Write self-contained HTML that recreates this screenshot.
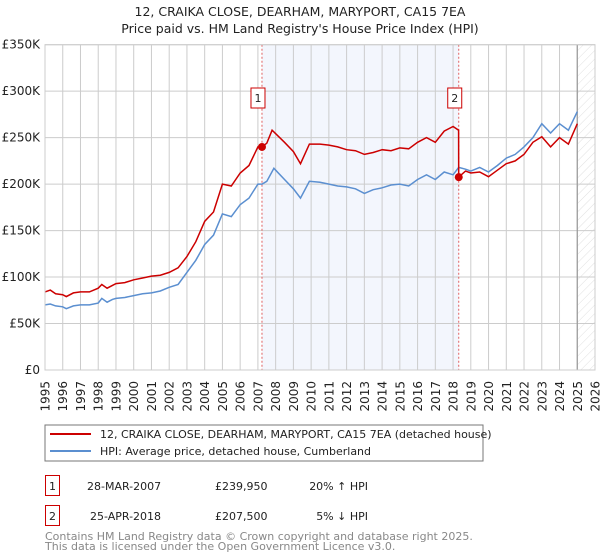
<!DOCTYPE html>
<html><head><meta charset="utf-8"><style>
body{margin:0;background:#fff;font-family:"DejaVu Sans","Liberation Sans",sans-serif;}
svg{display:block}
</style></head><body>
<svg width="600" height="560" viewBox="0 0 600 560" xmlns="http://www.w3.org/2000/svg" font-family="DejaVu Sans, Liberation Sans, sans-serif">
<text x="300" y="16" text-anchor="middle" font-size="12.5" fill="#222">12, CRAIKA CLOSE, DEARHAM, MARYPORT, CA15 7EA</text>
<text x="300" y="33" text-anchor="middle" font-size="12.5" fill="#222">Price paid vs. HM Land Registry's House Price Index (HPI)</text>
<defs><pattern id="hatch" width="6" height="6" patternUnits="userSpaceOnUse" patternTransform="rotate(45)"><line x1="0" y1="0" x2="0" y2="6" stroke="#d8d8d8" stroke-width="0.8"/></pattern></defs>
<g id="plot"></g>
<rect x="45" y="425" width="438" height="36" fill="#fff" stroke="#777"/>
<line x1="50" y1="434" x2="91" y2="434" stroke="#cc0000" stroke-width="2"/>
<text x="100" y="438" font-size="11" fill="#222">12, CRAIKA CLOSE, DEARHAM, MARYPORT, CA15 7EA (detached house)</text>
<line x1="50" y1="451" x2="91" y2="451" stroke="#5b8fd0" stroke-width="2"/>
<text x="100" y="455" font-size="11" fill="#222">HPI: Average price, detached house, Cumberland</text>
<rect x="45.5" y="475.5" width="14" height="20" fill="#fff" stroke="#cc0000"/>
<text x="52.5" y="490" text-anchor="middle" font-size="11" fill="#222">1</text>
<text x="87" y="490" font-size="11" fill="#222">28-MAR-2007</text>
<text x="215" y="490" font-size="11" fill="#222">£239,950</text>
<text x="368" y="490" text-anchor="end" font-size="11" fill="#222">20% ↑ HPI</text>
<rect x="45.5" y="505.5" width="14" height="20" fill="#fff" stroke="#cc0000"/>
<text x="52.5" y="520" text-anchor="middle" font-size="11" fill="#222">2</text>
<text x="90" y="520" font-size="11" fill="#222">25-APR-2018</text>
<text x="215" y="520" font-size="11" fill="#222">£207,500</text>
<text x="368" y="520" text-anchor="end" font-size="11" fill="#222">5% ↓ HPI</text>
<text x="45" y="540" font-size="11" fill="#888">Contains HM Land Registry data © Crown copyright and database right 2025.</text>
<text x="45" y="550" font-size="11" fill="#888">This data is licensed under the Open Government Licence v3.0.</text>
</svg>
<script>
const hpiYears=[1995,1995.3,1995.6,1996,1996.2,1996.6,1997,1997.5,1998,1998.2,1998.5,1998.8,1999,1999.5,2000,2000.5,2001,2001.5,2002,2002.5,2003,2003.5,2004,2004.5,2005,2005.5,2006,2006.5,2007,2007.23,2007.5,2007.9,2008.5,2009,2009.4,2009.9,2010.5,2011,2011.5,2012,2012.5,2013,2013.5,2014,2014.5,2015,2015.5,2016,2016.5,2017,2017.5,2018,2018.32,2018.7,2019,2019.5,2020,2020.5,2021,2021.5,2022,2022.5,2023,2023.5,2024,2024.5,2025];
const hpiValues=[70,71,69,68,66,69,70,70,72,77,73,76,77,78,80,82,83,85,89,92,105,118,135,145,168,165,178,185,200,200,203,217,205,195,185,203,202,200,198,197,195,190,194,196,199,200,198,205,210,205,213,210,218,216,214,218,213,220,228,232,240,250,265,255,265,258,278];
const redYears=[1995,1995.3,1995.6,1996,1996.2,1996.6,1997,1997.5,1998,1998.2,1998.5,1998.8,1999,1999.5,2000,2000.5,2001,2001.5,2002,2002.5,2003,2003.5,2004,2004.5,2005,2005.5,2006,2006.5,2007,2007.23,2007.5,2007.8,2008.5,2009,2009.4,2009.9,2010.5,2011,2011.5,2012,2012.5,2013,2013.5,2014,2014.5,2015,2015.5,2016,2016.5,2017,2017.5,2018,2018.31,2018.32,2018.7,2019,2019.5,2020,2020.5,2021,2021.5,2022,2022.5,2023,2023.5,2024,2024.5,2025];
const redValues=[84,86,82,81,79,83,84,84,88,92,88,91,93,94,97,99,101,102,105,110,122,138,160,170,200,198,212,220,240,240,244,258,245,235,222,243,243,242,240,237,236,232,234,237,236,239,238,245,250,245,257,262,258,207.5,214,212,213,208,215,222,225,232,245,251,240,250,243,265];
const sales=[{n:"1",year:2007.23,value:239.95},{n:"2",year:2018.32,value:207.5}];
const yTicks=[0,50,100,150,200,250,300,350];
const yTickLabels=["£0","£50K","£100K","£150K","£200K","£250K","£300K","£350K"];
const xTicks=[];for(let y=1995;y<=2026;y++)xTicks.push(y);

const NS="http://www.w3.org/2000/svg";
const g=document.getElementById('plot');
const X0=45,X1=595,Y0=370,Y1=44.7;
const xs=v=>X0+(v-1995)/(2026-1995)*(X1-X0);
const ys=v=>Y0-(v/350)*(Y0-Y1);
function mk(t,a){const e=document.createElementNS(NS,t);for(const k in a)e.setAttribute(k,a[k]);g.appendChild(e);return e;}
let el;
el=mk('rect',{x:xs(sales[0].year),y:Y1,width:xs(sales[1].year)-xs(sales[0].year),height:Y0-Y1,fill:'#f3f6fd'});


el=mk('rect',{x:xs(2025),y:Y1,width:xs(2026)-xs(2025),height:Y0-Y1,fill:'url(#hatch)'});


xTicks.forEach(t=>{
 el=mk('line',{x1:xs(t),x2:xs(t),y1:Y1,y2:Y0,stroke:'#ccc','stroke-width':1});
 
 
 const tx=mk('text',{x:0,y:0,'font-size':12,fill:'#222','text-anchor':'end',transform:`translate(${xs(t)+4.5},381) rotate(-90)`});
 tx.textContent=t;
 
 
});
yTicks.forEach((t,i)=>{
 el=mk('line',{x1:X0,x2:X1,y1:ys(t),y2:ys(t),stroke:'#ccc','stroke-width':1});
 
 
 const tx=mk('text',{x:40,y:ys(t)+4,'font-size':12,fill:'#222','text-anchor':'end'});
 tx.textContent=yTickLabels[i];
 
 
});
el=mk('line',{x1:xs(2025),x2:xs(2025),y1:Y1,y2:Y0,stroke:'#999','stroke-width':1.2});


sales.forEach(s=>{
 el=mk('line',{x1:xs(s.year),x2:xs(s.year),y1:Y1,y2:Y0,stroke:'#e06060','stroke-width':1,'stroke-dasharray':'2,2'});
 
 
});
function path(xsArr,vs){return xsArr.map((x,i)=>(i?'L':'M')+xs(x).toFixed(1)+','+ys(vs[i]).toFixed(1)).join('');}
el=mk('path',{d:path(hpiYears,hpiValues),fill:'none',stroke:'#5b8fd0','stroke-width':1.5});


el=mk('path',{d:path(redYears,redValues),fill:'none',stroke:'#cc0000','stroke-width':1.5});


sales.forEach(s=>{
 el=mk('circle',{cx:xs(s.year),cy:ys(s.value),r:4,fill:'#cc0000'});
 
 
 el=mk('rect',{x:xs(s.year)-8-3,y:88,width:14,height:20,fill:'#fff',stroke:'#cc0000'});
 
 
 const tx=mk('text',{x:xs(s.year)-4,y:102,'font-size':11,fill:'#222','text-anchor':'middle'});
 tx.textContent=s.n;
 
 
});
el=mk('rect',{x:X0,y:Y1,width:X1-X0,height:Y0-Y1,fill:'none',stroke:'#ccc'});


</script>
</body></html>
